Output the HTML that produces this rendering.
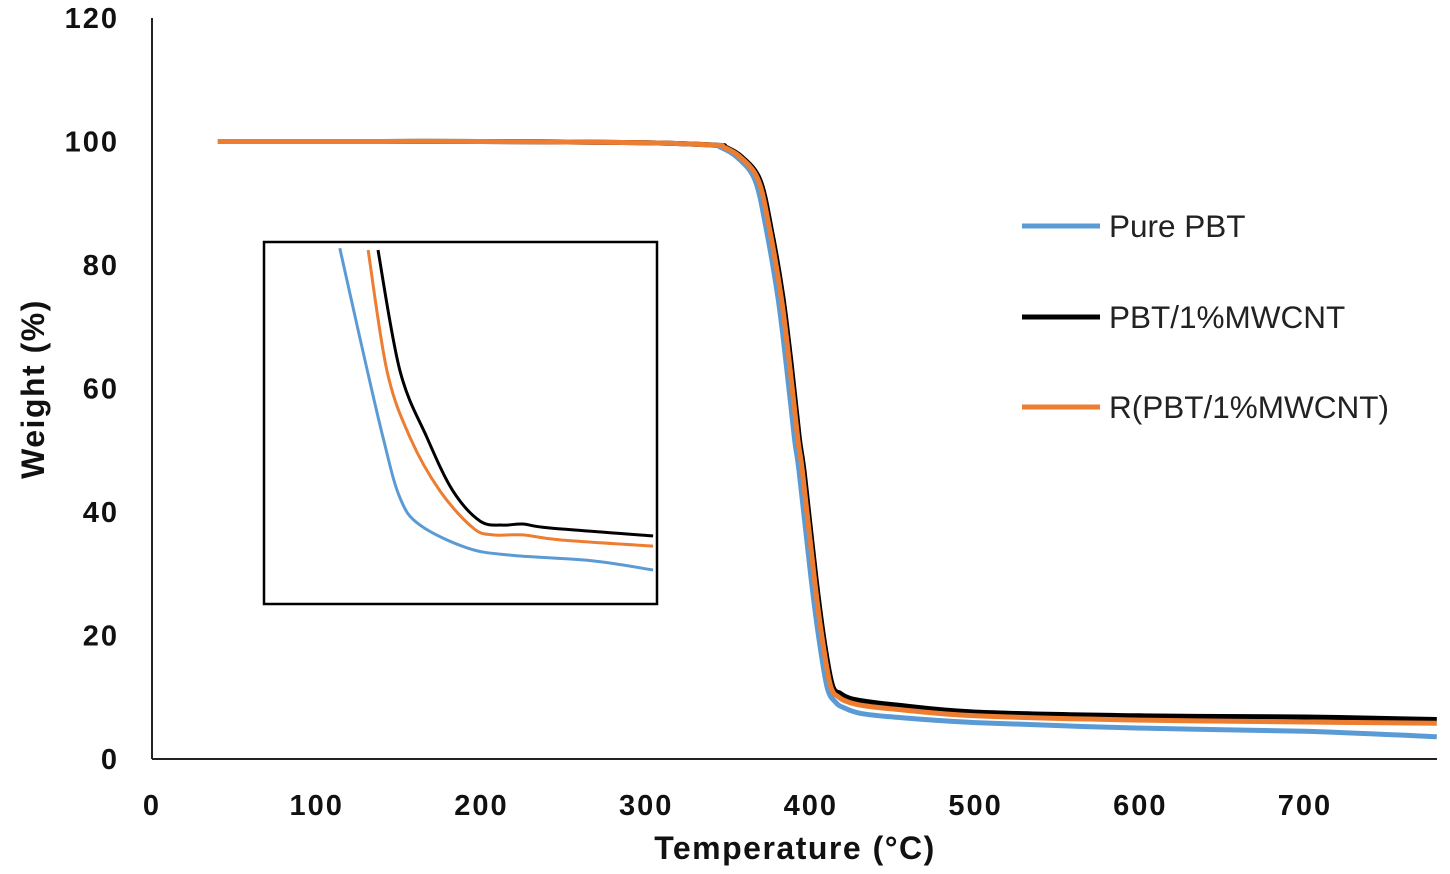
<!DOCTYPE html>
<html><head><meta charset="utf-8">
<style>
html,body{margin:0;padding:0;background:#fff;}
svg{display:block;font-family:"Liberation Sans",Arial,sans-serif;}
</style></head>
<body>
<svg id="chart" width="1450" height="874" viewBox="0 0 1450 874" xmlns="http://www.w3.org/2000/svg">
<g id="axes"></g>
<g id="series"></g>
<g id="inset"></g>
<g id="legend"></g>
</svg>
<script>
const xTicks = [0,100,200,300,400,500,600,700];
const yTicks = [0,20,40,60,80,100,120];
const seriesNames = ["Pure PBT","PBT/1%MWCNT","R(PBT/1%MWCNT)"];
const seriesColors = ["#5b9bd5","#000000","#ed7d31"];
const tempPure = [40,100,200,300,340,345,355,366,373,380,385,390,393,400,405,410,415,420,430,450,500,600,700,780];
const wPure    = [100,100,100,99.8,99.4,99.1,97.5,93.8,85.7,74.8,64.1,52,46.3,29.5,19.3,11.5,9.2,8.3,7.4,6.8,5.9,5,4.5,3.6];
const tempCnt  = [40,100,200,300,343,348,358,369,376,383,388,393,396,403,408,413,418,424,434,450,500,600,700,780];
const wCnt     = [100,100,100,99.8,99.4,99.1,97.5,93.8,85.7,74.8,64.1,52,46.3,29.5,19.3,12,10.6,9.8,9.3,8.8,7.6,7,6.8,6.4];
const tempR    = [40,100,200,300,342,347,357,368,375,382,387,392,395,402,407,412,417,423,433,450,500,600,700,780];
const wR       = [100,100,100,99.8,99.4,99.1,97.5,93.8,85.7,74.8,64.1,52,46.3,29.5,19.3,11.8,10,9.2,8.6,8.1,7,6.3,6,5.8];
// inset (zoomed region, relative units 0-100)
const insetXPure = [19.3,24.4,30.3,34.6,39.7,51.7,62.6,83.7,99];
const insetYPure = [98.3,73.5,45.9,29.3,21.8,15.5,13.5,11.9,9.4];
const insetXCnt  = [29,34.6,41.5,48.1,55,60.8,65.9,72.8,99];
const insetYCnt  = [97.8,64.4,45.9,31.2,22.9,21.8,22.1,21,18.8];
const insetXR    = [26.5,31.3,37.2,44.8,53.2,58.3,65.9,75.3,99];
const insetYR    = [97.8,64.4,45.9,31.2,21,19.1,19.1,17.7,16];

const NS="http://www.w3.org/2000/svg";
const X0=152, X1=1437, Y0=759, Y1=18;
const xScale=v=>X0+v*(1305-152)/700;
const yScale=v=>Y0-v*(Y0-Y1)/120;
const IX0=264, IX1=657, IY0=604, IY1=242;
const ixScale=v=>IX0+v*(IX1-IX0)/100;
const iyScale=v=>IY0-v*(IY0-IY1)/100;
function mk(tag,attrs,parent){const e=document.createElementNS(NS,tag);for(const k in attrs)e.setAttribute(k,attrs[k]);parent.appendChild(e);return e;}
function smoothPath(pts){
  let d="M"+pts[0][0].toFixed(1)+","+pts[0][1].toFixed(1);
  for(let i=0;i<pts.length-1;i++){
    const p0=pts[Math.max(0,i-1)],p1=pts[i],p2=pts[i+1],p3=pts[Math.min(pts.length-1,i+2)];
    const c1=[p1[0]+(p2[0]-p0[0])/6,p1[1]+(p2[1]-p0[1])/6];
    const c2=[p2[0]-(p3[0]-p1[0])/6,p2[1]-(p3[1]-p1[1])/6];
    d+=" C"+c1[0].toFixed(1)+","+c1[1].toFixed(1)+" "+c2[0].toFixed(1)+","+c2[1].toFixed(1)+" "+p2[0].toFixed(1)+","+p2[1].toFixed(1);
  }
  return d;
}
const axes=document.getElementById('axes');
let el=mk('line',{x1:X0,y1:Y1,x2:X0,y2:Y0,stroke:'#222','stroke-width':2},axes);


el=mk('line',{x1:X0,y1:Y0,x2:X1,y2:Y0,stroke:'#222','stroke-width':2},axes);


xTicks.forEach(v=>{
  const t=mk('text',{x:xScale(v),y:815,'text-anchor':'middle','font-size':29,'font-weight':'bold','letter-spacing':2,fill:'#111'},axes);
  t.textContent=v;
  
  
});
yTicks.forEach(v=>{
  const t=mk('text',{x:119,y:yScale(v)+10,'text-anchor':'end','font-size':29,'font-weight':'bold','letter-spacing':2,fill:'#111'},axes);
  t.textContent=v;
  
  
});
el=mk('text',{x:795,y:859,'text-anchor':'middle','font-size':32,'font-weight':'bold','letter-spacing':1.5,fill:'#111'},axes);
el.textContent='Temperature (°C)';


el=mk('text',{x:0,y:0,'text-anchor':'middle','font-size':32,'font-weight':'bold','letter-spacing':1.5,fill:'#111',transform:'translate(44,389) rotate(-90)'},axes);
el.textContent='Weight (%)';



const sg=document.getElementById('series');
const mainData=[[tempPure,wPure,0,'pure-pbt-line'],[tempCnt,wCnt,1,'pbt-mwcnt-line'],[tempR,wR,2,'r-pbt-mwcnt-line']];
mainData.forEach(([xs,ys,ci,name])=>{
  const pts=xs.map((x,i)=>[xScale(x),yScale(ys[i])]);
  const p=mk('path',{d:smoothPath(pts),fill:'none',stroke:seriesColors[ci],'stroke-width':5,'stroke-linejoin':'round'},sg);
  
  
});

const ig=document.getElementById('inset');
el=mk('rect',{x:IX0,y:IY1,width:IX1-IX0,height:IY0-IY1,fill:'#fff',stroke:'#000','stroke-width':2.5},ig);


[[insetXPure,insetYPure,0,'inset-pure-pbt-line'],[insetXCnt,insetYCnt,1,'inset-pbt-mwcnt-line'],[insetXR,insetYR,2,'inset-r-pbt-mwcnt-line']].forEach(([xs,ys,ci,name])=>{
  const pts=xs.map((x,i)=>[ixScale(x),iyScale(ys[i])]);
  const p=mk('path',{d:smoothPath(pts),fill:'none',stroke:seriesColors[ci],'stroke-width':3,'stroke-linejoin':'round'},ig);
  
  
});

const lg=document.getElementById('legend');
const legY=[226,317,407];
seriesNames.forEach((n,i)=>{
  const g=mk('g',{},lg);
  
  
  mk('line',{x1:1022,y1:legY[i],x2:1100,y2:legY[i],stroke:seriesColors[i],'stroke-width':5},g);
  const t=mk('text',{x:1109,y:legY[i]+11,'font-size':31.5,fill:'#222'},g);
  t.textContent=n;
});
</script>
</body></html>
